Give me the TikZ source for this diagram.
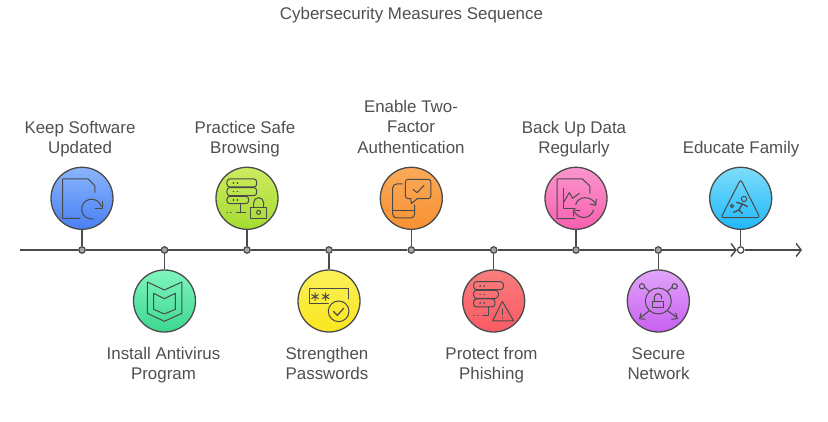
\documentclass[tikz,border=0pt]{standalone}
\usepackage{fontspec}
\setmainfont{Liberation Sans}
\usetikzlibrary{arrows.meta,backgrounds}
\definecolor{ink}{HTML}{4A4A4A}
\definecolor{txt}{HTML}{505050}
\definecolor{c1a}{RGB}{138,180,250}\definecolor{c1b}{RGB}{72,128,245}
\definecolor{c2a}{RGB}{128,245,190}\definecolor{c2b}{RGB}{60,215,145}
\definecolor{c3a}{RGB}{205,235,95}\definecolor{c3b}{RGB}{165,220,50}
\definecolor{c4a}{RGB}{250,240,90}\definecolor{c4b}{RGB}{250,230,30}
\definecolor{c5a}{RGB}{250,170,90}\definecolor{c5b}{RGB}{248,145,50}
\definecolor{c6a}{RGB}{248,125,125}\definecolor{c6b}{RGB}{250,90,100}
\definecolor{c7a}{RGB}{250,150,205}\definecolor{c7b}{RGB}{248,95,175}
\definecolor{c8a}{RGB}{225,165,250}\definecolor{c8b}{RGB}{200,95,240}
\definecolor{c9a}{RGB}{125,220,250}\definecolor{c9b}{RGB}{30,185,250}
\tikzset{
  bub/.style={circle,draw=ink,line width=1.3pt,minimum size=62pt,inner sep=0pt,top color=c#1a,bottom color=c#1b},
  dot/.style={circle,draw=ink,fill=#1,line width=1.2pt,minimum size=6.5pt,inner sep=0pt},
  lab/.style={align=center,anchor=north,text=txt,font=\fontsize{16.9}{20.5}\selectfont,inner sep=0pt,execute at begin node=\strut},
  tl/.style={ink,line width=1.5pt},
  tip/.style={tl,-{Straight Barb[length=5pt,width=13pt,line width=1.4pt]}},
  ic/.style={draw=ink,line width=1pt,line join=round,line cap=round},
  srv/.style={ic,rounded corners=2.8pt},
  pip/.style={ic,line width=1.4pt},
  zoomA/.style={shift={(40,160)},x=0.3333pt,y=-0.3333pt},
  zoomB/.style={shift={(290,160)},x=0.3333pt,y=-0.3333pt},
  zoomC/.style={shift={(535,160)},x=0.3333pt,y=-0.3333pt}
}
\begin{document}
\begin{tikzpicture}[x=1pt,y=-1pt]
\useasboundingbox (0,0) rectangle (828,422);
\node[lab] (title) at (411.5,5) {Cybersecurity Measures Sequence};
\coordinate (start) at (20,250);
\coordinate (end) at (802,250);
% dots
\node[dot=gray!70] (d1) at (82,250) {};
\node[dot=gray!70] (d2) at (164.5,250) {};
\node[dot=gray!70] (d3) at (247,250) {};
\node[dot=gray!70] (d4) at (329,250) {};
\node[dot=gray!70] (d5) at (411.3,250) {};
\node[dot=gray!70] (d6) at (493.7,250) {};
\node[dot=gray!70] (d7) at (576,250) {};
\node[dot=gray!70] (d8) at (658.3,250) {};
\node[dot=white] (d9) at (740.7,250) {};
% bubbles
\node[bub=1] (b1) at (82,198.3) {};
\node[bub=2] (b2) at (164.5,301) {};
\node[bub=3] (b3) at (247,198.3) {};
\node[bub=4] (b4) at (329,301) {};
\node[bub=5] (b5) at (411.3,198.3) {};
\node[bub=6] (b6) at (493.7,301) {};
\node[bub=7] (b7) at (576,198.3) {};
\node[bub=8] (b8) at (658.3,301) {};
\node[bub=9] (b9) at (740.7,198.3) {};
% timeline
\begin{scope}[on background layer]
\fill[white] (0,0) rectangle (828,422);
\draw[tl] (start) -- (d1) -- (d2) -- (d3) -- (d4) -- (d5) -- (d6) -- (d7) -- (d8);
\draw[tip] (d8) -- (d9.west);
\draw[tip] (d9) -- (end);
\foreach \i in {1,...,9} \draw[tl] (b\i) -- (d\i);
\end{scope}
% labels
\node[lab] (l1) at (80,121) {Keep Software\\Updated};
\node[lab] (l2) at (163.5,347) {Install Antivirus\\Program};
\node[lab] (l3) at (245,121) {Practice Safe\\Browsing};
\node[lab] (l4) at (327,347) {Strengthen\\Passwords};
\node[lab] (l5) at (411,100) {Enable Two-\\Factor\\Authentication};
\node[lab] (l6) at (491.5,347) {Protect from\\Phishing};
\node[lab] (l7) at (574,121) {Back Up Data\\Regularly};
\node[lab] (l8) at (658.5,347) {Secure\\Network};
\node[lab] (l9) at (741,139) {Educate Family};
\begin{scope}[zoomA]
% icon 1: document and arrow
\draw[ic] (120,175) -- (68,175) -- (68,57) -- (145,57) -- (165,78) -- (165,97);
\draw[ic] (160,177) arc[start angle=80,end angle=345,radius=30];
\draw[ic] (187,125) -- (187,146) -- (166,146);
% icon 2: shield
\draw[ic] (322,366) -- (373,390) -- (426,366) -- (426,460) -- (373,484) -- (322,460) -- cycle;
\draw[ic] (341,400) -- (373,416) -- (406,400) -- (406,448) -- (373,462) -- (341,448) -- cycle;
% icon 3: servers and lock
\draw[srv] (561,57) rectangle (650,81);
\draw[srv] (561,83) rectangle (650,107);
\draw[srv] (561,109) rectangle (626,131);
\foreach \y in {69,95,120} \draw[pip] (580,\y) -- (581,\y) (592,\y) -- (593,\y);
\draw[ic] (603,131) -- (603,157) (590,157) -- (618,157);
\draw[pip] (561,157) -- (562,157) (572,157) -- (573,157);
\draw[ic] (632,142) rectangle (680,176);
\draw[ic] (641,142) -- (641,128) arc[start angle=180,end angle=360,radius=15] -- (671,142);
\draw[ic] (656,157) circle[radius=6];
\end{scope}
\begin{scope}[zoomB]
% icon 4: password
\draw[ic] (115,432) -- (58,432) -- (58,386) -- (177,386) -- (177,417);
\foreach \c in {75,107} {
  \draw[ic] (\c,399) -- (\c,421) (\c-10,404) -- (\c+10,416) (\c-10,416) -- (\c+10,404);
}
\draw[ic] (146,454) circle[radius=31];
\draw[ic,line width=1.2pt] (131,455) -- (142,466) -- (161,445);
% icon 5: phone and bubble
\draw[ic] (337,72) -- (320,72) arc[start angle=270,end angle=180,radius=12] -- (308,162) arc[start angle=180,end angle=90,radius=12] -- (362,174) arc[start angle=90,end angle=0,radius=12] -- (374,135);
\draw[ic] (308,152) -- (374,152);
\draw[srv] (362,116) -- (346,116) -- (346,58) -- (423,58) -- (423,116) -- (382,116);
\draw[ic] (362,116) -- (364,131) -- (382,116);
\draw[ic] (369,88) -- (381,98) -- (402,76);
% icon 6: servers and warning
\draw[srv] (551,365) rectangle (640,389);
\draw[srv] (551,391) rectangle (625,415);
\draw[srv] (551,417) rectangle (615,441);
\foreach \y in {378,404,429} \draw[pip] (570,\y) -- (571,\y) (582,\y) -- (583,\y);
\draw[ic] (595,441) -- (595,466) -- (578,466);
\draw[pip] (552,466) -- (553,466) (564,466) -- (565,466);
\draw[ic] (608,483) -- (637,424) -- (671,483) -- cycle;
\draw[pip] (638,447) -- (638,463) (638,473) -- (638,474);
\end{scope}
\begin{scope}[zoomC]
% icon 7: document, chart, arrows
\draw[ic] (120,176) -- (66,176) -- (66,57) -- (142,57) -- (165,78) -- (165,100);
\draw[ic] (85,85) -- (85,146) -- (120,146);
\draw[ic] (87,125) -- (103,98) -- (113,115) -- (133,100);
\draw[ic] (122,134) .. controls (130,105) and (170,108) .. (182,132);
\draw[ic] (184,118) -- (182,136) -- (165,132);
\draw[ic] (176,150) .. controls (165,180) and (130,178) .. (118,155);
\draw[ic] (116,168) -- (116,150) -- (134,152);
% icon 8: network lock
\draw[ic] (370,423) circle[radius=39];
\draw[ic] (354,426) rectangle (386,444);
\draw[ic] (358,426) -- (358,412) arc[start angle=180,end angle=360,radius=11] -- (380,416);
\draw[ic] (321,379) circle[radius=8];
\draw[ic] (419,379) circle[radius=8];
\draw[ic] (329,382) -- (344,395);
\draw[ic] (411,382) -- (396,395);
\draw[ic] (343,452) -- (318,472) (318,460) -- (314,476) -- (330,478);
\draw[ic] (397,452) -- (425,472) (422,459) -- (427,476) -- (410,478);
% icon 9: triangle with figures
\draw[srv] (617,58) -- (675,173) -- (558,173) -- cycle;
\draw[ic] (627,117) circle[radius=8];
\draw[ic] (591,138) circle[radius=5];
\draw[ic,line width=1.3pt] (605,127) -- (622,132) -- (612,150) -- (622,160);
\draw[ic,line width=1.3pt] (622,132) -- (638,140);
\draw[ic,line width=1.3pt] (612,150) -- (596,157);
\end{scope}
\end{tikzpicture}
\end{document}
